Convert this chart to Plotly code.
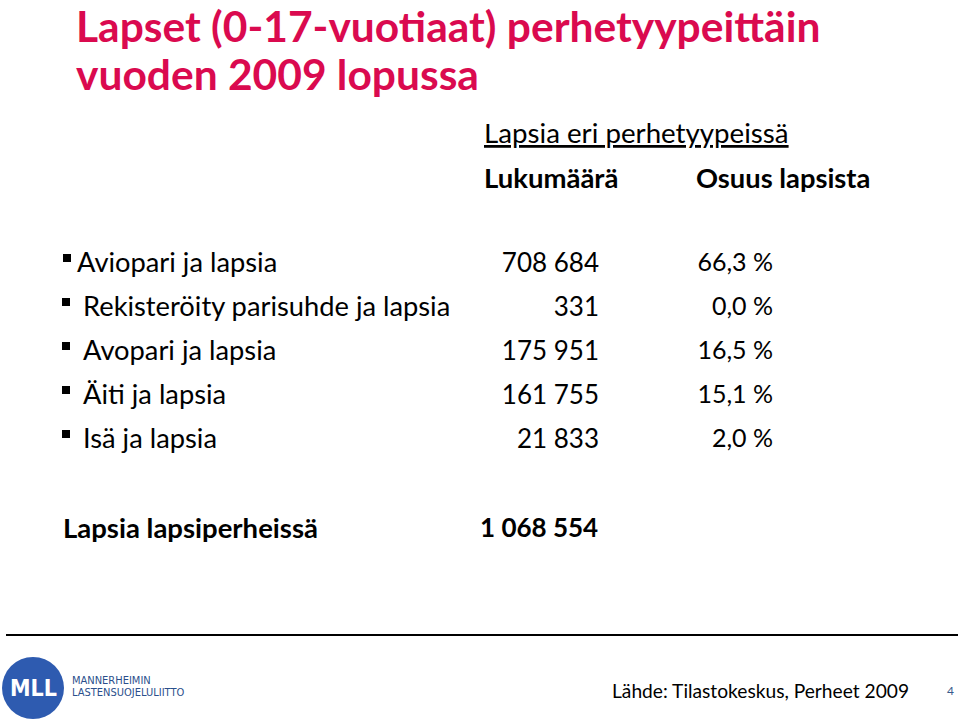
import plotly.graph_objects as go

# data
perhetyypit = ["Aviopari ja lapsia", "Rekisteröity parisuhde ja lapsia", "Avopari ja lapsia",
               "Äiti ja lapsia", "Isä ja lapsia"]
lukumaara = [708684, 331, 175951, 161755, 21833]
osuus = [66.3, 0.0, 16.5, 15.1, 2.0]
yhteensa = 1068554

def luku(n):
    return f"{n:,}".replace(",", " ")

def pros(p):
    return f"{p:.1f}".replace(".", ",") + " %"

FONT = "Lato"
PUNAINEN = "#DA0A4F"
rivi_y = [265, 309, 353, 397, 441]

fig = go.Figure()

# rivien nimet
fig.add_trace(go.Scatter(
    x=[77] + [83] * 4, y=rivi_y, mode="text", text=perhetyypit,
    textposition="middle right", textfont=dict(family=FONT, size=27.3, color="black"),
    hoverinfo="skip"))
# lukumaarat
fig.add_trace(go.Scatter(
    x=[599] * 5, y=rivi_y, mode="text", text=[luku(v) for v in lukumaara],
    textposition="middle left", textfont=dict(family=FONT, size=26, color="black"),
    hoverinfo="skip"))
# osuudet
fig.add_trace(go.Scatter(
    x=[773] * 5, y=rivi_y, mode="text", text=[pros(v) for v in osuus],
    textposition="middle left", textfont=dict(family=FONT, size=25, color="black"),
    hoverinfo="skip"))
# luettelomerkit
fig.add_trace(go.Scatter(
    x=[67] + [66] * 4, y=[y - 7 for y in rivi_y], mode="markers",
    marker=dict(symbol="square", size=8, color="black"), hoverinfo="skip"))

ann = []
ann.append(dict(x=74, y=25, text="<b>Lapset (0-17-vuotiaat) perhetyypeittäin</b>", xanchor="left",
                font=dict(family=FONT, size=42.5, color=PUNAINEN)))
ann.append(dict(x=74, y=73, text="<b>vuoden 2009 lopussa</b>", xanchor="left",
                font=dict(family=FONT, size=42.5, color=PUNAINEN)))
ann.append(dict(x=482, y=132, text="<u>Lapsia eri perhetyypeissä</u>", xanchor="left",
                font=dict(family=FONT, size=27.7, color="black")))
ann.append(dict(x=482, y=177, text="<b>Lukumäärä</b>", xanchor="left",
                font=dict(family=FONT, size=27.5, color="black")))
ann.append(dict(x=694, y=177, text="<b>Osuus lapsista</b>", xanchor="left",
                font=dict(family=FONT, size=27.3, color="black")))
ann.append(dict(x=61, y=527, text="<b>Lapsia lapsiperheissä</b>", xanchor="left",
                font=dict(family=FONT, size=27.5, color="black")))
ann.append(dict(x=600, y=527, text="<b>" + luku(yhteensa) + "</b>", xanchor="right",
                font=dict(family=FONT, size=26, color="black")))
ann.append(dict(x=911, y=690, text="Lähde: Tilastokeskus, Perheet 2009", xanchor="right",
                font=dict(family=FONT, size=19.2, color="black")))
ann.append(dict(x=956, y=690, text="4", xanchor="right",
                font=dict(family=FONT, size=12, color="#3A5A8C")))
# logo
ann.append(dict(x=33, y=688, text="<b>MLL</b>", xanchor="center",
                font=dict(family="DejaVu Sans Condensed", size=23, color="white")))
ann.append(dict(x=70, y=680, text="MANNERHEIMIN", xanchor="left",
                font=dict(family="DejaVu Sans Condensed", size=11, color="#2B4F8C")))
ann.append(dict(x=70, y=692, text="LASTENSUOJELULIITTO", xanchor="left",
                font=dict(family="DejaVu Sans Condensed", size=11, color="#2B4F8C")))
for a in ann:
    a.update(xref="x", yref="y", yanchor="middle", showarrow=False)

fig.update_layout(
    width=960, height=721, margin=dict(l=0, r=0, t=0, b=0),
    paper_bgcolor="white", plot_bgcolor="white", showlegend=False,
    xaxis=dict(range=[0, 960], visible=False, fixedrange=True),
    yaxis=dict(range=[721, 0], visible=False, fixedrange=True),
    annotations=ann,
    shapes=[
        dict(type="line", xref="x", yref="y", x0=6, x1=958, y0=635, y1=635,
             line=dict(color="black", width=2)),
        dict(type="circle", xref="x", yref="y", x0=2, x1=64, y0=657, y1=719,
             fillcolor="#2E5BB0", line=dict(width=0), layer="below"),
    ],
)

# sivun oletusmarginaali pois, jotta kuva täyttää ikkunan tasan
fig.write_html("out.html", config={"displayModeBar": False},
               post_script="document.body.style.margin='0';")
